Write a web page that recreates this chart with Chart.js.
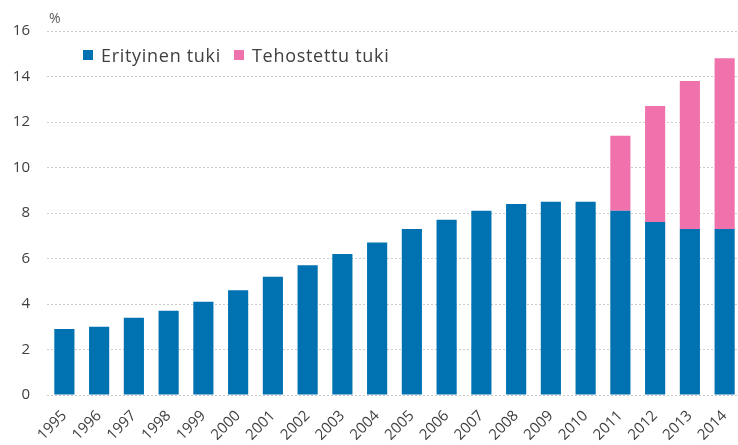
<!DOCTYPE html>
<html>
<head>
<meta charset="utf-8">
<script src="https://cdn.jsdelivr.net/npm/chart.js@4/dist/chart.umd.min.js"></script>
<style>
  html, body { margin: 0; padding: 0; overflow: hidden; background: #fff; width: 738px; height: 445px; }
  #wrap { position: absolute; left: 0; top: 0; width: 742px; height: 445px; }
  #unit { position: absolute; left: 49px; top: 8px; font: 14px "Open Sans", sans-serif; color: #595959; }
  #legend { position: absolute; left: 83px; top: 43px; font: 18px "Open Sans", sans-serif; letter-spacing: 0.7px; color: #404040; display: flex; }
  .item { display: flex; align-items: center; margin-right: 13px; }
  .sw { width: 10px; height: 10px; margin-right: 8px; }
</style>
</head>
<body>
<div id="wrap"><canvas id="c" width="742" height="445"></canvas></div>
<div id="unit">%</div>
<div id="legend"></div>
<script>
const years = ["1995","1996","1997","1998","1999","2000","2001","2002","2003","2004","2005","2006","2007","2008","2009","2010","2011","2012","2013","2014"];
const erityinen = [2.9, 3.0, 3.4, 3.7, 4.1, 4.6, 5.2, 5.7, 6.2, 6.7, 7.3, 7.7, 8.1, 8.4, 8.5, 8.5, 8.1, 7.6, 7.3, 7.3];
const tehostettu = [null, null, null, null, null, null, null, null, null, null, null, null, null, null, null, null, 3.3, 5.1, 6.5, 7.5];
const seriesNames = ["Erityinen tuki", "Tehostettu tuki"];
const seriesColors = ["#0072B1", "#F072AC"];
const yTicks = [0, 2, 4, 6, 8, 10, 12, 14, 16];

const legend = document.getElementById('legend');
seriesNames.forEach((n, i) => {
  const it = document.createElement('div'); it.className = 'item';
  const sw = document.createElement('div'); sw.className = 'sw'; sw.style.background = seriesColors[i];
  const tx = document.createElement('span'); tx.textContent = n;
  it.appendChild(sw); it.appendChild(tx); legend.appendChild(it);
});

new Chart(document.getElementById('c'), {
  type: 'bar',
  data: {
    labels: years,
    datasets: [
      { label: seriesNames[0], data: erityinen, backgroundColor: seriesColors[0], barPercentage: 0.58, categoryPercentage: 1 },
      { label: seriesNames[1], data: tehostettu, backgroundColor: seriesColors[1], barPercentage: 0.58, categoryPercentage: 1 }
    ]
  },
  options: {
    responsive: false,
    animation: false,
    devicePixelRatio: 1,
    layout: { padding: { top: 31, right: 0, left: 0, bottom: 0 } },
    plugins: { legend: { display: false }, tooltip: { enabled: false } },
    scales: {
      x: {
        stacked: true,
        grid: { display: false },
        border: { display: false },
        ticks: { minRotation: 45, maxRotation: 45, color: '#404040', font: { family: 'Open Sans', size: 15 }, padding: 4 },
        afterFit: s => { s.height = 50; }
      },
      y: {
        stacked: true,
        min: 0, max: 16,
        afterBuildTicks: s => { s.ticks = yTicks.map(v => ({ value: v })); },
        grid: { color: '#cccccc', lineWidth: 1, drawTicks: false },
        border: { display: false, dash: [2, 2] },
        ticks: { color: '#404040', font: { family: 'Open Sans', size: 15 }, padding: 17 },
        afterFit: s => { s.width = 47; }
      }
    }
  }
});
</script>
</body>
</html>
